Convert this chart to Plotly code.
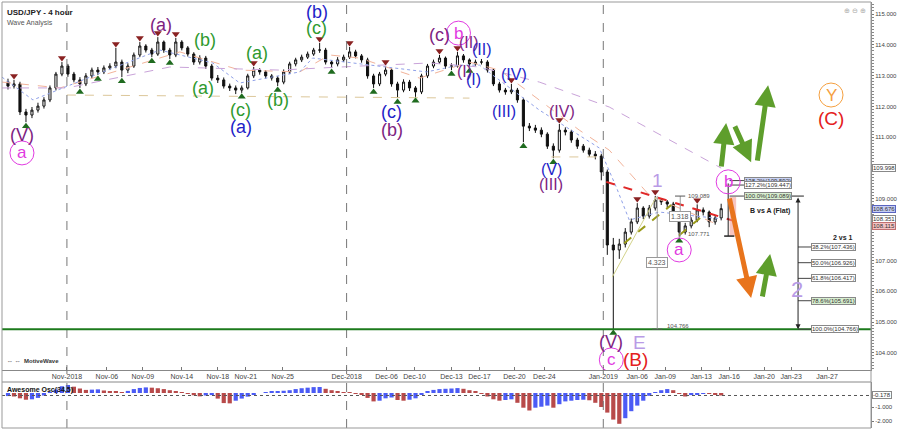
import plotly.graph_objects as go

# ---------------- data ----------------
first_open = 112.80
close = [112.66,112.73,111.82,111.72,111.88,112.01,112.21,112.60,113.05,113.31,
         113.05,112.86,112.73,112.99,113.18,113.12,113.25,113.31,113.44,113.18,
         113.31,113.67,113.96,113.83,113.70,114.09,113.83,113.67,114.09,113.90,
         113.70,113.44,113.57,113.31,112.92,112.86,112.66,112.60,112.53,112.60,
         112.99,113.18,113.12,112.99,112.92,112.79,113.12,113.38,113.51,113.60,
         113.70,113.83,113.83,113.44,113.38,113.51,113.60,113.77,113.64,113.51,
         112.99,112.73,113.05,113.18,112.73,112.53,112.79,112.60,112.47,112.99,
         113.31,113.44,113.57,113.31,113.31,113.64,113.51,113.38,113.44,113.44,
         113.18,112.73,112.53,112.47,112.53,112.21,111.36,111.30,111.23,111.10,
         110.71,110.58,111.23,111.17,110.91,110.71,110.58,110.45,110.39,109.87,
         107.50,107.34,107.53,107.92,108.25,108.70,108.44,108.70,108.96,108.90,
         108.83,108.51,107.92,108.12,108.31,108.64,108.57,108.25,108.38,108.68]
high = [112.90,112.86,112.80,111.92,111.98,112.12,112.30,112.68,113.12,113.44,
        113.38,113.12,112.95,113.08,113.26,113.28,113.33,113.40,113.90,113.52,
        113.40,113.75,114.09,114.02,113.90,114.25,114.14,113.90,114.22,114.15,
        113.96,113.76,113.66,113.64,113.38,113.02,112.94,112.74,112.68,112.68,
        113.06,113.28,113.24,113.18,113.05,112.98,113.20,113.45,113.58,113.68,
        113.78,113.90,114.06,113.90,113.50,113.60,113.68,113.93,113.84,113.70,
        113.58,113.06,113.12,113.31,113.24,112.80,112.88,112.86,112.66,113.06,
        113.38,113.52,113.67,113.62,113.40,113.77,113.70,113.56,113.52,113.54,
        113.50,113.24,112.80,112.60,112.73,112.60,112.28,111.46,111.40,111.32,
        111.16,110.80,111.43,111.32,111.24,110.98,110.78,110.66,110.55,110.46,
        109.95,107.73,107.70,108.05,108.36,108.86,108.76,108.80,109.09,109.02,
        108.96,108.90,108.58,108.22,108.40,108.82,108.72,108.62,108.46,108.84]
low = [112.55,112.58,111.72,111.49,111.62,111.80,111.93,112.14,112.52,112.98,
       112.96,112.78,112.60,112.66,112.92,113.02,113.05,113.18,113.24,112.95,
       113.08,113.25,113.60,113.75,113.60,113.64,113.74,113.54,113.60,113.82,
       113.62,113.35,113.36,113.22,112.84,112.76,112.58,112.50,112.40,112.44,
       112.55,112.92,113.03,112.90,112.84,112.66,112.72,113.05,113.30,113.44,
       113.54,113.64,113.74,113.36,113.25,113.30,113.44,113.54,113.56,113.42,
       112.90,112.60,112.66,112.98,112.64,112.27,112.46,112.50,112.31,112.40,
       112.92,113.24,113.38,113.22,113.18,113.26,113.42,113.28,113.32,113.36,
       113.10,112.66,112.45,112.38,112.40,112.12,110.84,111.20,111.14,111.00,
       110.62,110.32,110.50,111.06,110.82,110.62,110.50,110.36,110.28,109.60,
       107.18,104.77,107.05,107.42,107.84,108.18,108.34,108.36,108.62,108.80,
       108.72,108.42,107.77,107.84,108.04,108.24,108.46,108.08,108.16,108.30]
awesome_osc = [-0.22,-0.25,-0.38,-0.48,-0.45,-0.35,-0.18,0.02,0.25,0.48,
               0.57,0.45,0.32,0.22,0.24,0.26,0.18,0.12,0.08,0.04,
               0.15,0.28,0.36,0.40,0.38,0.34,0.28,0.20,0.12,0.04,
               -0.06,-0.16,-0.24,-0.18,-0.15,-0.40,-0.72,-0.74,-0.55,-0.40,
               -0.26,-0.10,0.00,0.05,0.08,0.12,0.16,0.20,0.28,0.34,
               0.38,0.42,0.43,0.30,0.20,0.12,0.06,0.04,-0.02,-0.10,
               -0.35,-0.60,-0.55,-0.38,-0.32,-0.50,-0.55,-0.48,-0.38,-0.10,
               0.12,0.22,0.28,0.30,0.32,0.35,0.30,0.20,0.08,-0.05,
               -0.25,-0.45,-0.55,-0.50,-0.45,-0.70,-1.05,-1.25,-1.05,-0.98,
               -0.90,-1.05,-0.80,-0.60,-0.55,-0.50,-0.48,-0.52,-0.70,-1.00,
               -1.40,-1.90,-2.20,-1.80,-1.30,-0.90,-0.55,-0.20,0.05,0.20,
               0.28,0.20,-0.05,-0.25,-0.15,-0.08,-0.04,-0.05,-0.10,-0.178]

tick_pos = [9.83,16.5,22.5,29.0,35.0,39.67,45.83,56.5,63.17,67.83,74.0,78.67,84.5,89.5,
            99.33,105.0,109.67,115.67,120.33,126.17,130.67,136.67]
tick_text = ["Nov-2018","Nov-06","Nov-09","Nov-14","Nov-18","Nov-21","Nov-25","Dec-2018",
             "Dec-06","Dec-10","Dec-13","Dec-17","Dec-20","Dec-24","Jan-2019","Jan-06",
             "Jan-09","Jan-13","Jan-16","Jan-20","Jan-23","Jan-27"]
month_starts = [9.83, 56.5, 99.33]
price_ticks = [104, 105, 106, 107, 109, 111, 112, 113, 114, 115]

peak_bars = [1,9,18,22,25,28,41,52,57,63,72,75,84,92,105,108,115]
trough_bars = [3,12,15,19,24,27,39,45,54,61,65,68,74,77,86,91,101,112]

ma_lilac_x = [-1, 9.83, 27, 45.33, 58.67, 70.33, 78.67, 88.67, 100.33, 119]
ma_lilac_y = [112.60, 112.60, 113.28, 113.18, 113.31, 113.41, 113.28, 112.79, 111.98, 109.998]
ma_blue_x = [-1, 4.17, 15.33, 25.33, 34.17, 38.67, 48.67, 50.83, 69.83, 75.33, 78.67, 88.67, 98.67, 101.5, 103.67, 108.67, 119]
ma_blue_y = [112.95, 112.21, 113.08, 113.83, 113.41, 112.76, 113.12, 113.57, 113.12, 113.34, 113.34, 111.88, 110.65, 109.38, 108.31, 108.57, 108.351]
ma_salmon_x = [-1, 8.67, 18.67, 28.67, 38.67, 48.67, 53.67, 58.67, 68.67, 77.0, 82.0, 88.67, 95.33, 100.33, 107.0, 119]
ma_salmon_y = [112.79, 112.60, 113.18, 113.77, 113.18, 113.12, 113.67, 113.57, 112.92, 113.44, 113.18, 112.21, 111.23, 110.58, 109.12, 108.115]
ma_tan_x = [9.83, 77.0]
ma_tan_y = [112.37, 112.27]
support_tan_x = [90.67, 98.67]
support_tan_y = [110.36, 110.36]

fib_levels = [107.436, 106.926, 106.417, 105.691, 104.766]
fib_names = ["38.2%", "50.0%", "61.8%", "78.6%", "100.0%"]
b_levels = [109.592, 109.447, 109.089]
b_names = ["138.2%", "127.2%", "100.0%"]
wave1_top, wave1_low, wave_a_low = 109.089, 104.766, 107.771
last_price, ma_mid, ma_fast = 108.676, 108.351, 108.115

PURPLE = "#7d2381"; GREEN = "#2f9a2f"; BLUE = "#1e1ec8"; PINK = "#e13ae1"
LILAC = "#b99be6"; RED = "#e42020"; ORANGE = "#f5a040"

wave_labels = [
    ("(V)", 2.33, 111.07, PURPLE, 18), ("(a)", 25.5, 114.64, PURPLE, 18),
    ("(b)", 32.83, 114.16, GREEN, 18), ("(a)", 32.5, 112.60, GREEN, 18),
    ("(c)", 38.83, 111.88, GREEN, 18), ("(a)", 38.83, 111.33, BLUE, 18),
    ("(a)", 41.5, 113.73, GREEN, 18), ("(b)", 45.0, 112.21, GREEN, 18),
    ("(b)", 51.5, 115.06, BLUE, 18), ("(c)", 51.5, 114.55, GREEN, 18),
    ("(c)", 64.0, 111.82, BLUE, 18), ("(b)", 64.0, 111.23, PURPLE, 18),
    ("(c)", 72.0, 114.32, PURPLE, 18), ("(II)", 77.0, 114.09, PURPLE, 16),
    ("(II)", 79.17, 113.86, BLUE, 16), ("(I)", 76.17, 113.12, PURPLE, 16),
    ("(I)", 77.67, 112.86, BLUE, 16), ("(IV)", 84.5, 113.05, BLUE, 16),
    ("(III)", 82.83, 111.82, BLUE, 16), ("(IV)", 92.5, 111.82, PURPLE, 16),
    ("(V)", 90.67, 109.94, BLUE, 16), ("(III)", 90.67, 109.48, PURPLE, 16),
    ("1", 108.33, 109.61, LILAC, 19), ("(V)", 100.67, 104.35, PURPLE, 18),
    ("E", 105.33, 104.35, LILAC, 19), ("(B)", 104.67, 103.77, RED, 19),
    ("2", 131.67, 106.04, LILAC, 22), ("(C)", 137.33, 111.62, RED, 19),
]
circle_labels = [
    ("a", 2.33, 110.49, PINK), ("b", 75.17, 114.38, PINK), ("a", 112.0, 107.34, PINK),
    ("b", 120.17, 109.55, PINK), ("c", 100.67, 103.77, PINK), ("Y", 137.33, 112.37, ORANGE),
]
arrows = [
    (119.0, 110.00, 119.83, 111.46, "#5e9e2c"),
    (121.17, 111.40, 124.0, 110.19, "#5e9e2c"),
    (125.0, 110.19, 126.83, 112.69, "#5e9e2c"),
    (125.83, 105.78, 127.17, 107.21, "#5e9e2c"),
    (120.33, 109.06, 124.0, 105.78, "#e8741c"),
]

# ---------------- figure ----------------
opens = [first_open] + close[:-1]
n = len(close)
xs = list(range(n))

fig = go.Figure()
FONT = "Liberation Sans, Arial, sans-serif"

for mx, my, col, dash in [(ma_tan_x, ma_tan_y, "#dcc79a", "dash"),
                          (support_tan_x, support_tan_y, "#dcc79a", "dash"),
                          (ma_salmon_x, ma_salmon_y, "#f2b39a", "dash"),
                          (ma_lilac_x, ma_lilac_y, "#c9a3d9", "dash"),
                          (ma_blue_x, ma_blue_y, "#8fa0e8", "dot")]:
    fig.add_trace(go.Scatter(x=mx, y=my, mode="lines", line=dict(color=col, width=1, dash=dash),
                             hoverinfo="skip", showlegend=False, xaxis="x", yaxis="y"))

fig.add_trace(go.Candlestick(
    x=xs, open=opens, high=high, low=low, close=close,
    increasing=dict(line=dict(color="#111111", width=1), fillcolor="#ffffff"),
    decreasing=dict(line=dict(color="#111111", width=1), fillcolor="#111111"),
    whiskerwidth=0, showlegend=False, xaxis="x", yaxis="y"))

fig.add_trace(go.Scatter(x=peak_bars, y=[high[i] + 0.13 for i in peak_bars], mode="markers",
                         marker=dict(symbol="triangle-down", size=7, color="#8a2222"),
                         showlegend=False, hoverinfo="skip", xaxis="x", yaxis="y"))
fig.add_trace(go.Scatter(x=trough_bars, y=[low[i] - 0.13 for i in trough_bars], mode="markers",
                         marker=dict(symbol="triangle-up", size=7, color="#1f6b1f"),
                         showlegend=False, hoverinfo="skip", xaxis="x", yaxis="y"))

ao_colors = ["#4b5bf5" if (i == 0 or awesome_osc[i] > awesome_osc[i - 1]) else "#b84a4a" for i in range(n)]
fig.add_trace(go.Bar(x=xs, y=awesome_osc, marker=dict(color=ao_colors, line=dict(width=0)),
                     showlegend=False, xaxis="x2", yaxis="y2"))

shapes = []
annotations = []
for m in month_starts:
    shapes.append(dict(type="line", xref="x", yref="paper", x0=m, x1=m, y0=0, y1=1,
                       line=dict(color="#777777", width=1, dash="dash")))
shapes.append(dict(type="line", xref="x", yref="y", x0=-1, x1=144, y0=wave1_low, y1=wave1_low,
                   line=dict(color="#1c7a1c", width=2)))
shapes.append(dict(type="line", xref="x", yref="y", x0=99.83, y0=109.55, x1=121.67, y1=108.25,
                   line=dict(color="#e02828", width=2, dash="dash")))
shapes.append(dict(type="line", xref="x", yref="y", x0=102.83, y0=107.56, x1=110.67, y1=108.80,
                   line=dict(color="#9a9a18", width=2, dash="dash")))
shapes.append(dict(type="line", xref="x", yref="y", x0=112.0, y0=107.82, x1=116.5, y1=108.54,
                   line=dict(color="#9a9a18", width=2, dash="dash")))
shapes.append(dict(type="line", xref="x", yref="y", x0=100.83, y0=106.46, x1=108.17, y1=109.06,
                   line=dict(color="#d2d28a", width=1)))
# measurement 4.323
shapes.append(dict(type="line", xref="x", yref="y", x0=108.33, x1=108.33, y0=wave1_top, y1=wave1_low,
                   line=dict(color="#999999", width=1)))
shapes.append(dict(type="line", xref="x", yref="y", x0=107.5, x1=109.2, y0=wave1_low, y1=wave1_low,
                   line=dict(color="#555555", width=1)))
annotations.append(dict(x=108.33, y=106.93, text="4.323", showarrow=False, font=dict(size=7, color="#555"),
                        bgcolor="white", bordercolor="#999", borderwidth=1, borderpad=1))
annotations.append(dict(x=109.6, y=wave1_low + 0.1, text="104.766", xanchor="left", showarrow=False,
                        font=dict(size=6, color="#555")))
# measurement 1.318
shapes.append(dict(type="line", xref="x", yref="y", x0=112.17, x1=112.17, y0=wave1_top, y1=wave_a_low,
                   line=dict(color="#999999", width=1)))
shapes.append(dict(type="line", xref="x", yref="y", x0=111.3, x1=113.0, y0=wave1_top, y1=wave1_top,
                   line=dict(color="#555555", width=1)))
annotations.append(dict(x=112.17, y=108.43, text="1.318", showarrow=False, font=dict(size=7, color="#555"),
                        bgcolor="white", bordercolor="#999", borderwidth=1, borderpad=1))
annotations.append(dict(x=113.2, y=wave1_top, text="109.089", xanchor="left", showarrow=False,
                        font=dict(size=6, color="#555")))
annotations.append(dict(x=113.2, y=wave_a_low + 0.1, text="107.771", xanchor="left", showarrow=False,
                        font=dict(size=6, color="#555")))
# b vs a measurement
shapes.append(dict(type="rect", xref="x", yref="y", x0=120.4, x1=121.5, y0=107.80, y1=109.06,
                   line=dict(width=0), fillcolor="rgba(240,150,140,0.55)"))
shapes.append(dict(type="line", xref="x", yref="y", x0=120.17, x1=120.17, y0=109.5, y1=107.79,
                   line=dict(color="#222222", width=1)))
shapes.append(dict(type="line", xref="x", yref="y", x0=119.5, x1=121.2, y0=107.79, y1=107.79,
                   line=dict(color="#222222", width=1.5)))
for lv, nm, bg in zip(b_levels, b_names, ["#c9d2f5", "#ffffff", "#d8efd0"]):
    shapes.append(dict(type="line", xref="x", yref="y", x0=120.4, x1=122.8, y0=lv, y1=lv,
                       line=dict(color="#444444", width=1)))
    annotations.append(dict(x=122.8, y=lv, text=f"{nm}({lv:.3f})", xanchor="left", showarrow=False,
                            font=dict(size=6, color="#333"), bgcolor=bg, bordercolor="#888",
                            borderwidth=1, borderpad=0))
annotations.append(dict(x=123.5, y=108.6, text="<b>B vs A (Flat)</b>", xanchor="left", showarrow=False,
                        font=dict(size=7, color="#222")))
# wave 2 fib bracket
annotations.append(dict(x=131.83, y=wave1_low, ax=131.83, ay=wave1_top, axref="x", ayref="y",
                        xref="x", yref="y", text="", showarrow=True, arrowhead=2, arrowsize=1,
                        arrowwidth=1, arrowcolor="#222", startarrowhead=2, arrowside="end+start",
                        startarrowsize=1))
shapes.append(dict(type="line", xref="x", yref="y", x0=130.8, x1=132.8, y0=wave1_top, y1=wave1_top,
                   line=dict(color="#222", width=1)))
for lv, nm in zip(fib_levels, fib_names):
    shapes.append(dict(type="line", xref="x", yref="y", x0=131.83, x1=134.0, y0=lv, y1=lv,
                       line=dict(color="#444444", width=1)))
    annotations.append(dict(x=134.0, y=lv, text=f"{nm}({lv:.3f})", xanchor="left", showarrow=False,
                            font=dict(size=6, color="#333"),
                            bgcolor="#d8efd0" if nm == "78.6%" else "white",
                            bordercolor="#888", borderwidth=1, borderpad=0))
annotations.append(dict(x=141.3, y=107.76, text="<b>2 vs 1</b>", xanchor="right", showarrow=False,
                        font=dict(size=7, color="#222")))

for t, x, y, c, s in wave_labels:
    annotations.append(dict(x=x, y=y, text=t, showarrow=False, font=dict(size=s, color=c, family=FONT)))
for t, x, y, c in circle_labels:
    annotations.append(dict(x=x, y=y, text=t, showarrow=False, font=dict(size=17, color=c, family=FONT)))
    shapes.append(dict(type="circle", xref="x", yref="y", xsizemode="pixel", ysizemode="pixel",
                       xanchor=x, yanchor=y, x0=-12, x1=12, y0=-12, y1=12, line=dict(color=c, width=1)))
for tx, ty, hx, hy, c in arrows:
    annotations.append(dict(x=hx, y=hy, ax=tx, ay=ty, axref="x", ayref="y", xref="x", yref="y",
                            text="", showarrow=True, arrowhead=2, arrowsize=0.85, arrowwidth=5, arrowcolor=c))

for val, bg, bc in [(109.998, "white", "#888"), (last_price, "#c6cdf3", "#5a64c0"),
                    (ma_mid, "white", "#888"), (ma_fast, "#f4c2c2", "#c07070")]:
    annotations.append(dict(xref="paper", x=1, xanchor="left", xshift=1, yref="y", y=val,
                            text=f"{val:.3f}", showarrow=False, font=dict(size=6, color="#333"),
                            bgcolor=bg, bordercolor=bc, borderwidth=1, borderpad=0))
annotations.append(dict(xref="paper", x=1, xanchor="left", xshift=1, yref="y2", y=awesome_osc[-1],
                        text=f"{awesome_osc[-1]:.3f}", showarrow=False, font=dict(size=6, color="#333"),
                        bgcolor="white", bordercolor="#888", borderwidth=1, borderpad=0))
shapes.append(dict(type="line", xref="paper", yref="y2", x0=0, x1=1, y0=awesome_osc[-1], y1=awesome_osc[-1],
                   line=dict(color="#555", width=1, dash="dot")))

def py(px):
    return (428 - px) / 426
annotations += [
    dict(xref="paper", yref="paper", x=0.004, y=py(6), text="<b>USD/JPY - 4 hour</b>", xanchor="left",
         showarrow=False, font=dict(size=8, color="#222")),
    dict(xref="paper", yref="paper", x=0.004, y=py(17), text="Wave Analysis", xanchor="left",
         showarrow=False, font=dict(size=7, color="#555")),
    dict(xref="paper", yref="paper", x=0.004, y=py(366), text="⇔ ⇔  <b>MotiveWave</b>", xanchor="left",
         showarrow=False, font=dict(size=6, color="#333")),
    dict(xref="paper", yref="paper", x=0.004, y=py(390), yanchor="middle", text="<b>Awesome Osc(34,5)</b>",
         xanchor="left", showarrow=False, font=dict(size=7, color="#111")),
    dict(xref="paper", yref="paper", x=0.997, y=py(5), text="⊕ ⊖ ⊕", xanchor="right",
         showarrow=False, font=dict(size=7, color="#aaa")),
]
shapes.append(dict(type="line", xref="paper", yref="paper", x0=0, x1=1, y0=py(382), y1=py(382),
                   line=dict(color="#888", width=1)))
shapes.append(dict(type="rect", xref="paper", yref="paper", x0=0, x1=1, y0=0, y1=1,
                   line=dict(color="#999", width=1)))

fig.update_layout(
    width=900, height=430, margin=dict(l=2, r=27, t=2, b=2),
    paper_bgcolor="white", plot_bgcolor="white",
    font=dict(family=FONT, size=7, color="#333"),
    showlegend=False, bargap=0.3, boxgap=0.5, hovermode=False,
    shapes=shapes, annotations=annotations,
    xaxis=dict(domain=[0, 1], range=[-1, 144], anchor="y", tickvals=tick_pos, ticktext=tick_text,
               ticks="inside", ticklen=3, tickcolor="#777", tickfont=dict(size=7, color="#444"),
               showgrid=False, zeroline=False, showline=True, linecolor="#888",
               rangeslider=dict(visible=False)),
    xaxis2=dict(domain=[0, 1], range=[-1, 144], anchor="y2", matches="x", showticklabels=False,
                showgrid=False, zeroline=False, ticks=""),
    yaxis=dict(domain=[0.136, 1], range=[103.44, 115.39], side="right", anchor="x",
               tickvals=price_ticks, tickformat=".3f", ticks="outside", ticklen=2,
               tickcolor="#777", tickfont=dict(size=6, color="#444"), showgrid=False, zeroline=False,
               showline=True, linecolor="#888",
               minor=dict(dtick=0.1, ticklen=1.5, ticks="outside", tickcolor="#888")),
    yaxis2=dict(domain=[0, 0.108], range=[-2.5, 0.786], side="right", anchor="x2",
                tickvals=[-1, -2], ticktext=["-1.000", "-2.000"], ticks="outside", ticklen=2,
                tickcolor="#777", tickfont=dict(size=6, color="#444"), showgrid=False, zeroline=False,
                showline=True, linecolor="#888"),
)

fig.write_html("out.html", config={"displayModeBar": False},
               post_script="document.body.style.margin='0px';document.body.style.overflow='hidden';")
